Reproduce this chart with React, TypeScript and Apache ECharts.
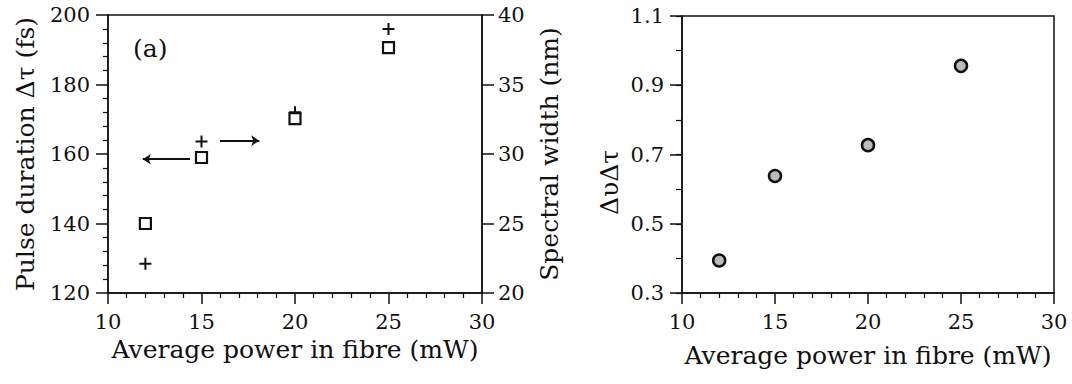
import React, { useEffect, useRef } from "react";
import * as echarts from "echarts";

// ---- data ----
const power = [12, 15, 20, 25]; // mW
const pulseDuration = [140, 159, 170.2, 190.6]; // fs (squares, left axis)
const spectralWidth = [22.1, 30.9, 33.0, 39.0]; // nm (crosses, right axis)
const timeBandwidth = [0.394, 0.638, 0.727, 0.956]; // ΔυΔτ (right panel)
const rightPanelYTicks = [0.3, 0.5, 0.7, 0.9, 1.1];
// annotation arrows in data coordinates: [from, to]
const leftArrow = [[14.39, 158.5], [11.86, 158.5]]; // points to pulse-duration axis
const rightArrow = [[15.99, 30.96], [18.09, 30.96]]; // points to spectral-width axis

const FONT = "DejaVu Serif";
const INK = "#111";
const PLUS =
  "path://M5,0 L7,0 L7,5 L12,5 L12,7 L7,7 L7,12 L5,12 L5,7 L0,7 L0,5 L5,5 Z";

export default function App() {
  const ref = useRef<HTMLDivElement>(null);
  useEffect(() => {
    if (!ref.current) return;
    const chart = echarts.init(ref.current, undefined, { renderer: "svg" });
    const tickLabel = { color: INK, fontFamily: FONT, fontSize: 21 };
    const nameStyle = { color: INK, fontFamily: FONT, fontSize: 25 };
    const axisLine = { show: true, lineStyle: { color: INK, width: 1.5 } };
    const xAxisBase = {
      type: "value",
      min: 10,
      max: 30,
      interval: 5,
      name: "Average power in fibre (mW)",
      nameLocation: "middle",
      nameTextStyle: nameStyle,
      axisLine,
      axisTick: { show: true, length: 11, lineStyle: { color: INK, width: 1.5 } },
      minorTick: { show: true, splitNumber: 5, length: 5, lineStyle: { color: INK, width: 1.2 } },
      axisLabel: { ...tickLabel, margin: 18 },
      splitLine: { show: false },
      minorSplitLine: { show: false },
    };
    const option = {
      animation: false,
      backgroundColor: "#fff",
      grid: [
        { left: 108, top: 15, width: 374, height: 278, show: true, borderColor: INK, borderWidth: 1.5 },
        { left: 682, top: 16, width: 372, height: 277, show: true, borderColor: INK, borderWidth: 1.5 },
      ],
      xAxis: [
        { ...xAxisBase, gridIndex: 0, nameGap: 44 },
        { ...xAxisBase, gridIndex: 1, nameGap: 50 },
      ],
      yAxis: [
        {
          type: "value",
          gridIndex: 0,
          position: "left",
          min: 120,
          max: 200,
          interval: 20,
          name: "Pulse duration Δτ (fs)",
          nameLocation: "middle",
          nameRotate: 90,
          nameGap: 70,
          nameTextStyle: nameStyle,
          axisLine,
          axisTick: { show: true, length: 12, lineStyle: { color: INK, width: 1.5 } },
          minorTick: { show: true, splitNumber: 5, length: 5, lineStyle: { color: INK, width: 1.2 } },
          axisLabel: { ...tickLabel, margin: 18 },
          splitLine: { show: false },
        },
        {
          type: "value",
          gridIndex: 0,
          position: "right",
          min: 20,
          max: 40,
          interval: 5,
          name: "Spectral width (nm)",
          nameLocation: "middle",
          nameRotate: 90,
          nameGap: 55,
          nameTextStyle: nameStyle,
          axisLine,
          axisTick: { show: true, length: 12, lineStyle: { color: INK, width: 1.5 } },
          axisLabel: { ...tickLabel, margin: 16 },
          splitLine: { show: false },
        },
        {
          type: "value",
          gridIndex: 1,
          position: "left",
          min: 0.3,
          max: 1.1,
          interval: 0.1,
          name: "ΔυΔτ",
          nameLocation: "middle",
          nameRotate: 90,
          nameGap: 60,
          nameTextStyle: { ...nameStyle, padding: [0, 56, 0, 0] },
          axisLine,
          axisTick: {
            show: true,
            length: 12,
            customValues: rightPanelYTicks,
            lineStyle: { color: INK, width: 1.5 },
          },
          axisLabel: {
            ...tickLabel,
            margin: 18,
            customValues: rightPanelYTicks,
            formatter: (v: number) => v.toFixed(1),
          },
          splitLine: { show: false },
        },
        {
          type: "value",
          gridIndex: 1,
          position: "left",
          min: 0.3,
          max: 1.1,
          interval: 0.1,
          axisLine: { show: false },
          axisTick: { show: true, length: 6, lineStyle: { color: INK, width: 1.2 } },
          axisLabel: { show: false },
          splitLine: { show: false },
        },
      ],
      graphic: [
        {
          type: "text",
          left: 133,
          top: 36,
          style: { text: "(a)", font: `25px "${FONT}"`, fill: INK },
        },
      ],
      series: [
        {
          type: "scatter",
          name: "Spectral width",
          xAxisIndex: 0,
          yAxisIndex: 1,
          z: 2,
          data: power.map((p, i) => [p, spectralWidth[i]]),
          symbol: PLUS,
          symbolSize: 12,
          itemStyle: { color: INK, opacity: 1 },
          markLine: {
            silent: true,
            symbol: ["none", "arrow"],
            symbolSize: 8,
            label: { show: false },
            lineStyle: { color: INK, width: 2, type: "solid", opacity: 1 },
            data: [[{ coord: rightArrow[0] }, { coord: rightArrow[1] }]],
          },
        },
        {
          type: "scatter",
          name: "Pulse duration",
          xAxisIndex: 0,
          yAxisIndex: 0,
          z: 3,
          data: power.map((p, i) => [p, pulseDuration[i]]),
          symbol: "rect",
          symbolSize: 11,
          itemStyle: { color: "#fff", borderColor: INK, borderWidth: 2.2, opacity: 1 },
          markLine: {
            silent: true,
            symbol: ["none", "arrow"],
            symbolSize: 8,
            label: { show: false },
            lineStyle: { color: INK, width: 2, type: "solid", opacity: 1 },
            data: [[{ coord: leftArrow[0] }, { coord: leftArrow[1] }]],
          },
        },
        {
          type: "scatter",
          name: "Time-bandwidth product",
          xAxisIndex: 1,
          yAxisIndex: 2,
          data: power.map((p, i) => [p, timeBandwidth[i]]),
          symbol: "circle",
          symbolSize: 12,
          itemStyle: { color: "#bbb", borderColor: INK, borderWidth: 2.5, opacity: 1 },
        },
      ],
    };
    chart.setOption(option as any);
    return () => chart.dispose();
  }, []);
  return (
    <div
      ref={ref}
      style={{ position: "fixed", left: 0, top: 0, width: 1072, height: 384, background: "#fff" }}
    />
  );
}
